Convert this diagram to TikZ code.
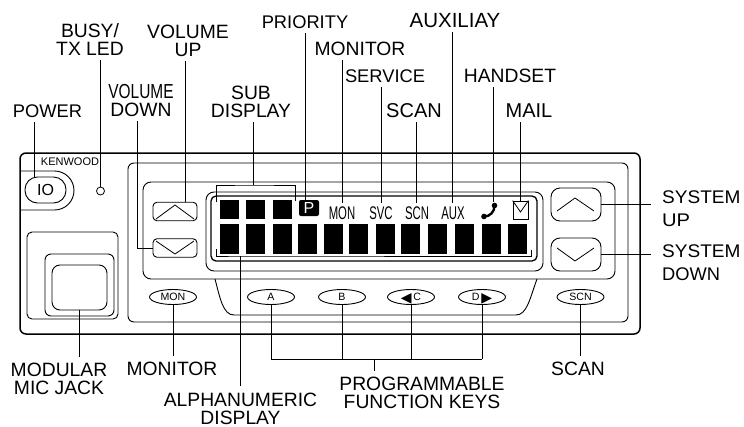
\documentclass[tikz,border=0pt]{standalone}
\usepackage{graphicx}
\usepackage{fontspec}
\setmainfont{Liberation Sans}
\newfontfamily\symfont{DejaVu Sans}
\usetikzlibrary{shapes.geometric}
\newcommand{\lcdtxt}[1]{\scalebox{0.62}[1]{#1}}
\newcommand{\arrowglyph}[1]{\raisebox{-1.5pt}[0pt][0pt]{\symfont\fontsize{14}{14}\selectfont #1}}
\tikzset{
    lbl/.style={anchor=base,align=center,inner sep=5pt,font=\fontsize{#1}{18}\selectfont},
    lbl/.default=19.3,
    syslbl/.style={anchor=base west,align=left,inner sep=5pt,font=\fontsize{18.3}{23}\selectfont},
    panel/.style={draw,rounded corners=#1,line width=0.9pt},
    volkey/.style={draw,rounded corners=4pt,line width=0.9pt,minimum width=44pt,minimum height=18.5pt,inner sep=0pt},
    syskey/.style={draw,rounded corners=9pt,line width=0.9pt,minimum width=50pt,minimum height=33pt,inner sep=0pt},
    softkey/.style={draw,ellipse,line width=0.9pt,minimum width=47pt,minimum height=15pt,inner sep=0pt,font=\fontsize{10.6}{12}\selectfont},
    lcdlbl/.style={anchor=base,inner xsep=0pt,inner ysep=4pt,font=\fontsize{18.3}{18}\selectfont},
    leader/.style={line width=0.9pt}
}

\begin{document}
\begin{tikzpicture}[x=1pt,y=-1pt]
                \useasboundingbox (0,0) rectangle (744,426);
                \draw[panel=6pt,line width=1.5pt] (20,153) rectangle (640,334);
                \draw[panel=6pt] (128,163) rectangle (628,322);
                \draw[panel=8pt] (143,182) rectangle (615,279);
                \draw[panel=8pt] (206,192) rectangle (543,271);
                \draw[panel=5pt,line width=1.3pt] (211,196) rectangle (537,261);
                \draw[line width=0.9pt] (215,279) .. controls (220,298) and (223,315) .. (234,315) -- (516,315) .. controls (527,315) and (530,298) .. (537,279);
                \draw[line width=0.9pt,rounded corners=19.5pt] (20,171) -- (74,171) -- (74,210) -- (20,210);
                \node[font=\fontsize{11}{12}\selectfont] (brand) at (70,162) {KENWOOD};
                \node[draw,rounded corners=12.5pt,line width=0.9pt,minimum width=41pt,minimum height=26pt,inner sep=0pt,font=\fontsize{16}{16}\selectfont] (btnio) at (45.5,190) {IO};
                \node[draw,circle,line width=0.8pt,minimum size=8pt,inner sep=0pt] (led) at (100.5,191) {};
                \draw[panel=5pt] (27,232) rectangle (118,319);
                \draw[panel=6pt] (45,254) rectangle (114,316);
                \node[draw,rounded corners=8pt,line width=0.9pt,minimum width=55pt,minimum height=45pt,inner sep=0pt] (jack) at (79.5,287.5) {};
                \node[volkey] (btnvolup) at (175,211.5) {};
                \node[volkey] (btnvoldn) at (175,248) {};
                \node[syskey] (btnsysup) at (576,204.5) {};
                \node[syskey] (btnsysdn) at (576,254.5) {};
                \draw[line width=0.8pt] (156,219) -- (175,205) -- (194,219);
                \draw[line width=0.8pt] (156,241) -- (175,254) -- (194,241);
                \draw[line width=0.8pt] (557,211) -- (575,198) -- (594,211);
                \draw[line width=0.8pt] (557,248) -- (575,261) -- (594,248);
                \node[softkey] (btnmon) at (173,297) {MON};
                \node[softkey] (btna) at (271,297) {A};
                \node[softkey] (btnb) at (342,297) {B};
                \node[softkey] (btnc) at (411,297) {\arrowglyph{◀}\,C};
                \node[softkey] (btnd) at (482,297) {D\,\arrowglyph{▶}};
                \node[softkey] (btnscn) at (580.5,297) {SCN};
                \foreach \x in {220,246,273}{
                    \fill (\x,200) rectangle ++(19,19);
                }
                \foreach \x in {220,246,273,298,324,349,376,401,428,455,482,508}{
                    \fill (\x,224) rectangle ++(19,30);
                }
                \node[fill=black,rounded corners=2pt,text=white,minimum width=20pt,minimum height=16pt,inner sep=0pt,font=\fontsize{16}{16}\selectfont] (iconp) at (309,208) {P};
                \node[lcdlbl] (txtmon) at (342,219.5) {\lcdtxt{MON}};
                \node[lcdlbl] (txtsvc) at (381,219.5) {\lcdtxt{SVC}};
                \node[lcdlbl] (txtscn) at (417,219.5) {\lcdtxt{SCN}};
                \node[lcdlbl] (txtaux) at (453,219.5) {\lcdtxt{AUX}};
                \coordinate (iconphone) at (493,202);
                \draw[line width=2.4pt] (494.5,205.5) .. controls (494.5,212) and (490,216.5) .. (484,216.5);
                \fill (494.5,205.5) circle (2.8);
                \fill (484,216.5) circle (2.8);
                \node[draw,line width=0.8pt,minimum width=15pt,minimum height=18pt,inner sep=0pt] (iconmail) at (520.5,210) {};
                \draw[line width=0.8pt] (iconmail.north west) -- (520.5,212) -- (iconmail.north east);
                \coordinate (subleft) at (216,202);
                \coordinate (subtop) at (253,185);
                \coordinate (subright) at (295,201);
                \draw[leader] (subleft) |- (subtop) -| (subright);
                \coordinate (alphaleft) at (216,249);
                \coordinate (alphabot) at (240,256);
                \coordinate (alpharight) at (531,250);
                \draw[leader] (alphaleft) |- (alphabot) -| (alpharight);
                \node[lbl=18.3] (lblpower) at (47.5,117) {POWER};
                \node[lbl] (lblbusy) at (90,55) {BUSY/\\TX LED};
                \node[lbl] (lblvolup) at (188,56) {VOLUME\\UP};
                \node[lbl] (lblvoldn) at (141,116) {\scalebox{0.8}[1.05]{VOLUME}\\DOWN};
                \node[lbl] (lblsub) at (251,117) {SUB\\DISPLAY};
                \node[lbl=18.3] (lblprio) at (305,28) {PRIORITY};
                \node[lbl] (lblmon) at (360,55) {MONITOR};
                \node[lbl=18.3] (lblsvc) at (385,82) {SERVICE};
                \node[lbl=20] (lblscn) at (414,117) {SCAN};
                \node[lbl=20.5] (lblaux) at (455,27) {AUXILIAY};
                \node[lbl] (lblphone) at (510,82) {HANDSET};
                \node[lbl=20] (lblmail) at (529,117) {MAIL};
                \node[syslbl] (lblsysup) at (657,226) {\scalebox{1.04}[1]{SYSTEM}\\\scalebox{1.1}[1]{UP}};
                \node[syslbl] (lblsysdn) at (657,280) {\scalebox{1.04}[1]{SYSTEM}\\DOWN};
                \node[lbl] (lbljack) at (59,394) {MODULAR\\MIC JACK};
                \node[lbl] (lblmonb) at (172,375) {MONITOR};
                \node[lbl,inner sep=0pt] (lblalpha) at (240.5,424) {ALPHANUMERIC\\DISPLAY};
                \node[lbl] (lblkeys) at (422,408) {PROGRAMMABLE\\FUNCTION KEYS};
                \node[lbl] (lblscnb) at (578,375) {SCAN};
                \foreach \lbl/\xx/\tgt in {lblpower/34/btnio.north,lblbusy/100.5/led.north,lblvolup/185/btnvolup.north,lblsub/253/subtop,lblprio/305/iconp.north,lblmon/342/txtmon.north,lblsvc/381/txtsvc.north,lblscn/416/txtscn.north,lblaux/452/txtaux.north,lblphone/493/iconphone,lblmail/520/iconmail.north}{
                    \coordinate (x\lbl) at (\xx,0);
                    \draw[leader] (x\lbl |- \lbl.south) -- (x\lbl |- \tgt);
                }
                \coordinate (xvoldn) at (137.5,0);
                \draw[leader] (xvoldn |- lblvoldn.south) |- (btnvoldn.west);
                \coordinate (xsysend) at (651,0);
                \draw[leader] (btnsysup.east) -- (btnsysup.east -| xsysend);
                \draw[leader] (btnsysdn.east) -- (btnsysdn.east -| xsysend);
                \draw[leader] (jack.south) -- (jack.south |- lbljack.north);
                \draw[leader] (btnmon.south) -- (btnmon.south |- lblmonb.north);
                \draw[leader] (btnscn.south) -- (btnscn.south |- lblscnb.north);
                \draw[leader,shorten >=6pt] (alphabot) -- (alphabot |- lblalpha.north);
                \coordinate (keybar) at (374,359);
                \foreach \k in {a,b,c,d}{
                    \draw[leader] (btn\k.south) -- (btn\k.south |- keybar);
                }
                \draw[leader] (btna.south |- keybar) -- (btnd.south |- keybar);
                \draw[leader] (keybar) -- (keybar |- lblkeys.north);
            \end{tikzpicture}
\end{document}
